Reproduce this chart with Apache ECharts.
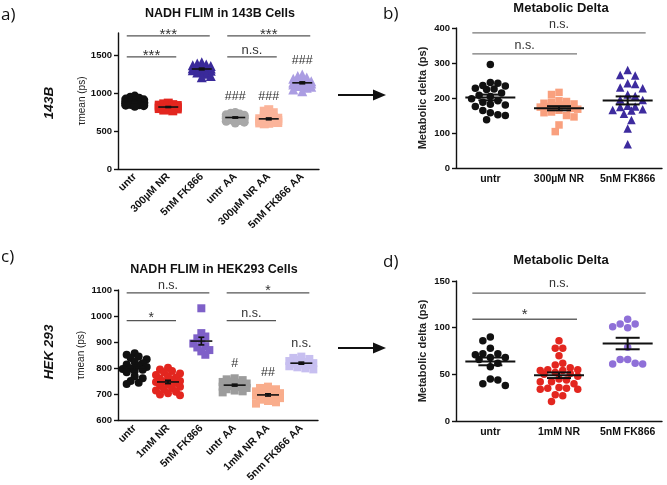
<!DOCTYPE html>
<html><head><meta charset="utf-8">
<script src="https://cdn.jsdelivr.net/npm/echarts@6/dist/echarts.min.js"></script>
<style>html,body{margin:0;padding:0;background:#fff}#c{width:667px;height:485px}</style>
</head><body><div id="c"></div>
<script>
// ---------- DATA ----------
const catsA = ['untr','300µM NR','5nM FK866','untr AA','300µM NR AA','5nM FK866 AA'];
const a_untr   = [965,950,935,925,915,905,900,895,890,885,880,878,875,870,865,860,855,850,845,838,830];
const a_nr     = [872,862,852,845,840,835,830,826,822,818,815,810,805,800,795,788,780,770];
const a_fk     = [1412,1395,1382,1372,1362,1352,1345,1340,1335,1330,1326,1320,1315,1308,1300,1290,1278,1262,1232,1215];
const a_untrAA = [748,738,728,718,712,706,700,695,690,688,685,680,675,670,665,660,652,642,632,620,608];
const a_nrAA   = [785,765,745,720,700,685,672,665,658,652,646,640,635,630,625,620,615,610,605,598];
const a_fkAA   = [1252,1232,1212,1196,1182,1170,1160,1152,1146,1140,1135,1130,1125,1118,1110,1100,1090,1076,1052,1030];
const yTicksA  = [0,500,1000,1500];
const sigA   = [[0,2,1761,'***'],[0,1,1483,'***'],[3,5,1761,'***'],[3,4,1483,'n.s.']];
const marksA = [[3,867,'###'],[4,867,'###'],[5,1344,'###']];

const catsB = ['untr','300µM NR','5nM FK866'];
const b_untr = [296,244,242,236,234,228,226,224,214,208,204,198,192,188,182,180,176,164,158,152,150,138];
const b_nr   = [216,210,192,190,188,185,183,180,178,176,174,170,168,165,160,158,150,146,123,104];
const b_fk   = [280,266,264,242,240,230,228,210,206,196,194,178,176,174,168,166,164,155,137,113,68];
const sigB   = [[0,2,386,'n.s.'],[0,1,326,'n.s.']];

const catsC = ['untr','1mM NR','5nM FK866','untr AA','1mM NR AA','5nm FK866 AA'];
const c_untr   = [858,852,845,840,835,825,820,815,810,805,800,798,795,790,785,770,762,752,745,740];
const c_nr     = [802,796,790,785,780,775,770,765,760,756,752,750,748,745,740,735,730,725,720,715,710,705,700,697];
const c_fk     = [1030,935,922,915,900,895,885,880,870,865,852];
const c_untrAA = [762,758,755,750,748,745,742,740,738,735,732,730,728,725,720,715,712,708];
const c_nrAA   = [730,725,720,716,712,708,705,702,700,698,695,692,690,686,680,675,670,665];
const c_fkAA   = [845,840,836,832,828,824,820,818,815,812,808,804,800,796];
const sigC   = [[0,2,1089,'n.s.'],[3,5,1089,'*'],[0,1,983,'*'],[3,4,983,'n.s.']];
const marksC = [[5,872,'n.s.'],[3,794,'#'],[4,760,'##']];

const catsD = ['untr','1mM NR','5nM FK866'];
const d_untr = [90,86,78,72,72,71,68,68,66,62,58,45,44,40,38];
const d_nr   = [86,78,78,70,62,60,57,55,55,54,54,52,51,50,48,45,44,42,42,40,36,35,35,34,34,28,27,21];
const d_fk   = [109,104,104,101,100,79,66,66,62,61,61];
const sigD   = [[0,2,137,'n.s.'],[0,1,109,'*']];

// ---------- LAYOUT / STYLE ----------
const FONT = '"Liberation Sans", Arial, sans-serif';
const panels = [
  {cats:catsA, groups:[a_untr,a_nr,a_fk,a_untrAA,a_nrAA,a_fkAA],
   colors:['#111111','#e3261f','#3a2a9a','#a8a8a8','#fbb49a','#ab9de2'],
   symbols:['circle','rect','triangle','circle','rect','triangle'],
   grid:{left:118,top:33,width:201,height:136}, y:{min:0,max:1800,interval:500,custom:yTicksA},
   yName:'τmean (ps)', nameBold:false, nameSize:10, nameGap:30, rotate:45, catSize:10.5,
   size:9, half:11, overlap:0.5, meanHalf:10, semHalf:3, meanW:1.6, sig:sigA, marks:marksA,
   barExt:8, sigSize:13, starSize:15, starDy:6, nsDy:0, markSize:12.5, barColor:'#555'},
  {cats:catsB, groups:[b_untr,b_nr,b_fk],
   colors:['#111111','#f9a07e','#3d2b9e'], symbols:['circle','rect','triangle'],
   grid:{left:456,top:28,width:206,height:140}, y:{min:0,max:400,interval:100},
   yName:'Metabolic delta (ps)', nameBold:true, nameSize:11, nameGap:28, rotate:0, catSize:10.5,
   size:7.5, half:19, overlap:1.0, meanHalf:25, semHalf:12, meanW:2, sig:sigB, marks:[],
   barExt:18, sigSize:12.5, starSize:15, starDy:3, nsDy:-2, markSize:12, barColor:'#777'},
  {cats:catsC, groups:[c_untr,c_nr,c_fk,c_untrAA,c_nrAA,c_fkAA],
   colors:['#111111','#e3261f','#7e60c8','#9c9c9c','#f9ad8c','#c7bff0'],
   symbols:['circle','circle','rect','rect','rect','rect'],
   grid:{left:118,top:290,width:200,height:132}, y:{min:600,max:1100,interval:100},
   yName:'τmean (ps)', nameBold:false, nameSize:10, nameGap:32, rotate:45, catSize:10.5,
   size:8, half:13, overlap:0.6, meanHalf:11, semHalf:3, meanW:1.6, sig:sigC, marks:marksC,
   barExt:8, sigSize:12.5, starSize:14, starDy:5, nsDy:-1, markSize:12.5, barColor:'#555'},
  {cats:catsD, groups:[d_untr,d_nr,d_fk],
   colors:['#111111','#e3261f','#8f70d8'], symbols:['circle','circle','circle'],
   grid:{left:456,top:281,width:206,height:140}, y:{min:0,max:150,interval:50},
   yName:'Metabolic delta (ps)', nameBold:true, nameSize:11, nameGap:28, rotate:0, catSize:10.5,
   size:7.5, half:19, overlap:1.0, meanHalf:25, semHalf:12, meanW:2, sig:sigD, marks:[],
   barExt:18, sigSize:12.5, starSize:15, starDy:3, nsDy:-3, markSize:12, barColor:'#666'}
];

function swarm(vals, pxPerY, d, maxHalf, overlap) {
  const order = vals.map((v,i)=>i).sort((a,b)=>vals[b]-vals[a]);
  const placed = [], off = new Array(vals.length).fill(0);
  const step = d*0.5, minD = d*overlap;
  let flip = 1;
  order.forEach(i=>{
    const y = vals[i]*pxPerY;
    const cands=[0];
    for(let k=1;k*step<=maxHalf+0.01;k++){cands.push(flip*k*step,-flip*k*step);}
    flip=-flip;
    let chosen=null,best=-1,bestX=0;
    for(const x of cands){
      let m=Infinity;
      for(const p of placed){const dd=Math.hypot(p[0]-x,p[1]-y); if(dd<m)m=dd;}
      if(m>=minD){chosen=x;break;}
      if(m>best){best=m;bestX=x;}
    }
    if(chosen===null) chosen=bestX;
    placed.push([chosen,y]); off[i]=chosen;
  });
  return off;
}
function stats(v){const n=v.length;const m=v.reduce((a,b)=>a+b,0)/n;
  const sd=Math.sqrt(v.reduce((a,b)=>a+(b-m)*(b-m),0)/(n-1));return {mean:m,sem:sd/Math.sqrt(n)};}

const option = {animation:false, grid:[], xAxis:[], yAxis:[], series:[], graphic:[]};
const axisLineStyle = {color:'#111', width:1.4};
panels.forEach((P,g)=>{
  const n = P.cats.length;
  option.grid.push(Object.assign({}, P.grid));
  option.xAxis.push({type:'category', gridIndex:g, data:P.cats,
    axisLine:{onZero:false, lineStyle:axisLineStyle}, axisTick:{alignWithLabel:true,length:4,lineStyle:axisLineStyle},
    axisLabel:{interval:0, rotate:P.rotate, margin:6, color:'#111', fontWeight:'bold', fontSize:P.catSize, fontFamily:FONT},
    splitLine:{show:false}});
  option.xAxis.push({type:'value', gridIndex:g, min:-0.5, max:n-0.5, show:false});
  const yA = {type:'value', gridIndex:g, min:P.y.min, max:P.y.max, interval:P.y.interval,
    name:P.yName, nameLocation:'middle', nameGap:P.nameGap,
    nameTextStyle:{fontSize:P.nameSize, fontWeight:P.nameBold?'bold':'normal', color:'#222', fontFamily:FONT},
    axisLine:{show:true, onZero:false, lineStyle:axisLineStyle}, axisTick:{show:true,length:4,lineStyle:axisLineStyle},
    axisLabel:{color:'#111', fontWeight:'bold', fontSize:9.5, fontFamily:FONT, margin:6, formatter:v=>String(v)},
    splitLine:{show:false}};
  if (P.y.custom) {
    yA.axisLabel.customValues = P.y.custom;
    yA.axisTick.customValues = P.y.custom;
    yA.axisLabel.formatter = v => (P.y.custom.indexOf(v)>=0 ? String(v) : '');
  }
  option.yAxis.push(yA);
  const pxPerX = P.grid.width/n, pxPerY = P.grid.height/(P.y.max-P.y.min);
  const st = P.groups.map(stats);
  P.groups.forEach((vals,gi)=>{
    const off = swarm(vals, pxPerY, P.size, P.half, P.overlap);
    option.series.push({type:'scatter', xAxisIndex:2*g+1, yAxisIndex:g, z:2,
      symbol:P.symbols[gi], symbolSize:P.symbols[gi]==='triangle'?P.size+1:P.size,
      itemStyle:{color:P.colors[gi], opacity:1},
      data: vals.map((v,i)=>[gi+off[i]/pxPerX, v])});
  });
  // mean + SEM
  option.series.push({type:'custom', xAxisIndex:2*g+1, yAxisIndex:g, z:5,
    data: st.map((s,i)=>[i,s.mean]),
    renderItem:(params,api)=>{
      const s = st[params.dataIndex], i = params.dataIndex;
      const c = api.coord([i,s.mean]), t = api.coord([i,s.mean+s.sem]), b = api.coord([i,s.mean-s.sem]);
      const ls = {stroke:'#111', lineWidth:P.meanW};
      return {type:'group', children:[
        {type:'line', shape:{x1:c[0]-P.meanHalf,y1:c[1],x2:c[0]+P.meanHalf,y2:c[1]}, style:ls},
        {type:'line', shape:{x1:c[0],y1:t[1],x2:c[0],y2:b[1]}, style:ls},
        {type:'line', shape:{x1:c[0]-P.semHalf,y1:t[1],x2:c[0]+P.semHalf,y2:t[1]}, style:ls},
        {type:'line', shape:{x1:c[0]-P.semHalf,y1:b[1],x2:c[0]+P.semHalf,y2:b[1]}, style:ls}
      ]};
    }});
  // significance bars
  option.series.push({type:'custom', xAxisIndex:2*g+1, yAxisIndex:g, z:6,
    data: P.sig.map(s=>[s[0],s[2]]),
    renderItem:(params,api)=>{
      const s = P.sig[params.dataIndex];
      const p1 = api.coord([s[0],s[2]]), p2 = api.coord([s[1],s[2]]);
      const star = s[3].indexOf('*')>=0;
      return {type:'group', children:[
        {type:'line', shape:{x1:p1[0]-P.barExt,y1:p1[1],x2:p2[0]+P.barExt,y2:p2[1]}, style:{stroke:P.barColor,lineWidth:1.3}},
        {type:'text', x:(p1[0]+p2[0])/2, y:p1[1]+(star?P.starDy:P.nsDy),
         style:{text:s[3], fill:'#333', font:(star?P.starSize:P.sigSize)+'px '+FONT, align:'center', verticalAlign:'bottom'}}
      ]};
    }});
  if (P.marks.length) {
    option.series.push({type:'custom', xAxisIndex:2*g+1, yAxisIndex:g, z:6,
      data: P.marks.map(m=>[m[0],m[1]]),
      renderItem:(params,api)=>{
        const m = P.marks[params.dataIndex];
        const p = api.coord([m[0],m[1]]);
        return {type:'text', x:p[0], y:p[1],
          style:{text:m[2], fill:'#333', font:P.markSize+'px '+FONT, align:'center', verticalAlign:'bottom'}};
      }});
  }
});

function txt(t,x,y,font,opts){return Object.assign({type:'text', x:x, y:y, style:{text:t, fill:'#111', font:font, align:'center', verticalAlign:'middle'}}, opts||{});}
const titleFont = 'bold 12.5px '+FONT, titleFont2 = 'bold 13px '+FONT, letterFont = '17px "Open Sans", sans-serif';
option.graphic = [
  txt('NADH FLIM in 143B Cells',220,14,titleFont),
  txt('Metabolic Delta',561,8,titleFont2),
  txt('NADH FLIM in HEK293 Cells',214,270,titleFont),
  txt('Metabolic Delta',561,260,titleFont2),
  {type:'text', x:1, y:15, style:{text:'a)', fill:'#111', font:letterFont, align:'left', verticalAlign:'middle'}},
  {type:'text', x:383, y:14, style:{text:'b)', fill:'#111', font:letterFont, align:'left', verticalAlign:'middle'}},
  {type:'text', x:1, y:257, style:{text:'c)', fill:'#111', font:letterFont, align:'left', verticalAlign:'middle'}},
  {type:'text', x:383, y:262, style:{text:'d)', fill:'#111', font:letterFont, align:'left', verticalAlign:'middle'}},
  txt('143B',49,103,'italic bold 13.5px '+FONT,{rotation:Math.PI/2}),
  txt('HEK 293',49,352,'italic bold 13.5px '+FONT,{rotation:Math.PI/2}),
  {type:'line', shape:{x1:338,y1:95,x2:376,y2:95}, style:{stroke:'#111',lineWidth:2}},
  {type:'polygon', shape:{points:[[373,89.5],[386,95],[373,100.5]]}, style:{fill:'#111'}},
  {type:'line', shape:{x1:338,y1:348,x2:376,y2:348}, style:{stroke:'#111',lineWidth:2}},
  {type:'polygon', shape:{points:[[373,342.5],[386,348],[373,353.5]]}, style:{fill:'#111'}}
];

const chart = echarts.init(document.getElementById('c'), null, {renderer:'canvas'});
chart.setOption(option);
</script></body></html>
